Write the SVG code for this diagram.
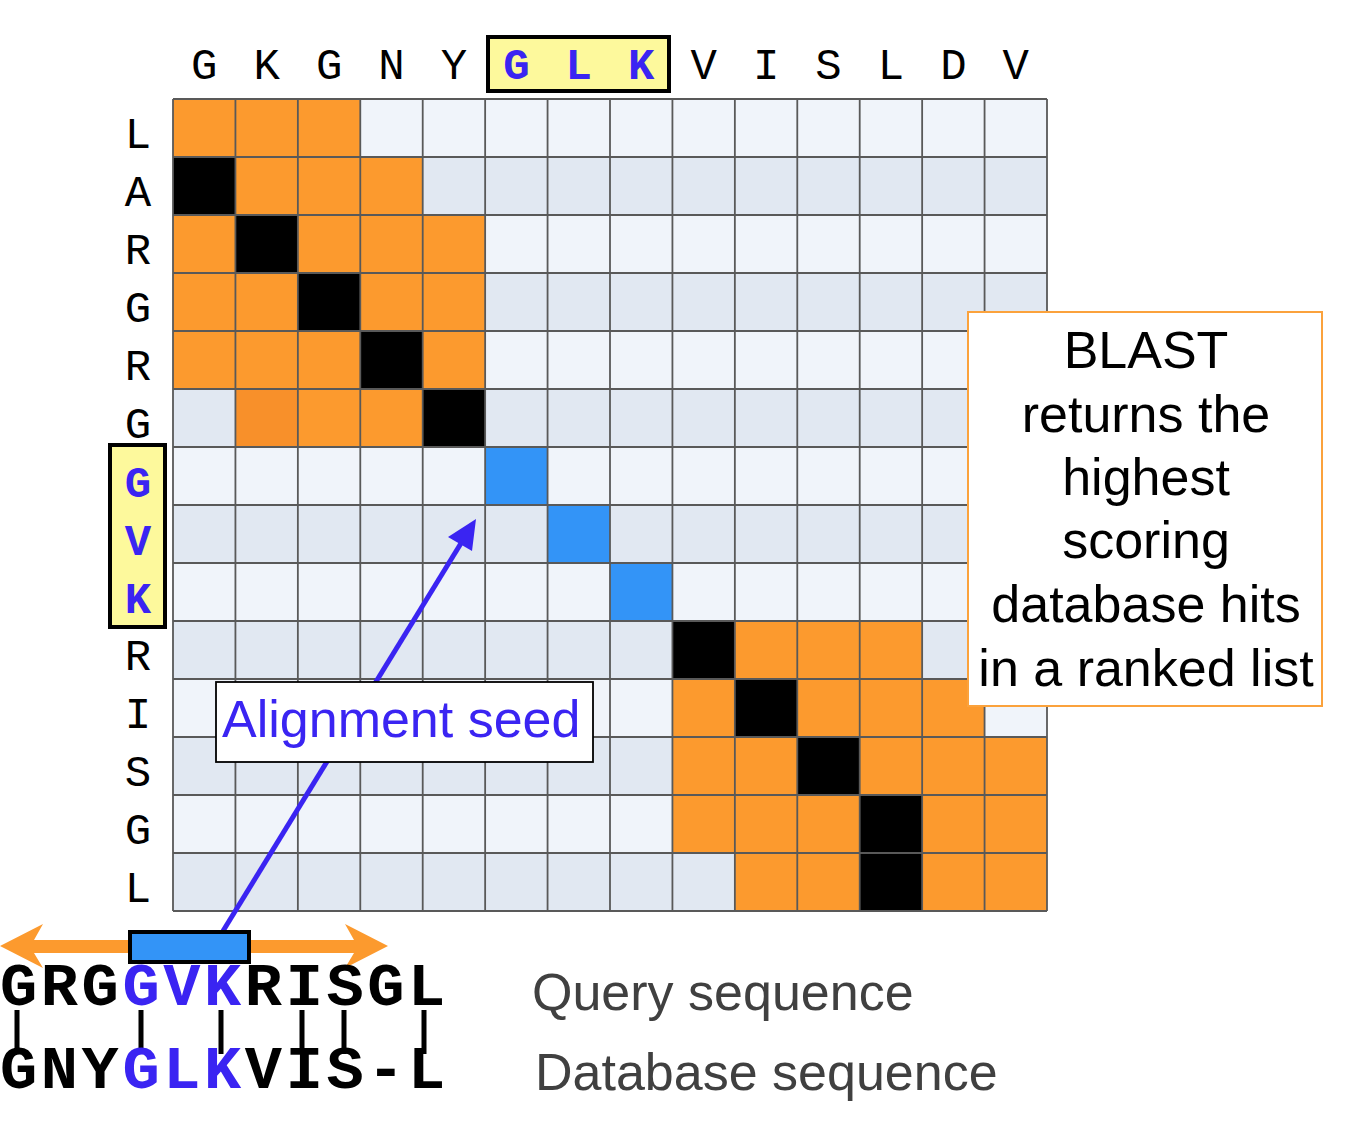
<svg xmlns="http://www.w3.org/2000/svg" width="1354" height="1144" viewBox="0 0 1354 1144">
<style>
.l0{fill:#f0f4fa}
.l1{fill:#e1e8f2}
.o{fill:#fc9a2e}
.k{fill:#000}
.b{fill:#3394f7}
.gl{stroke:#595959;stroke-width:1.8;fill:none}
.mono{font-family:"Liberation Mono","Courier New",monospace;font-size:44px;fill:#000;text-anchor:middle}
.hl{font-weight:bold;fill:#3a24f2}
.seq{font-family:"Liberation Mono","Courier New",monospace;font-size:62px;letter-spacing:3.6px;font-weight:bold;fill:#000}
.sans{font-family:"Liberation Sans",Arial,sans-serif;font-size:52px}
</style>
<rect width="1354" height="1144" fill="#fff"/>
<g id="matrix">
<rect class="l0" x="173" y="99" width="874" height="58"/>
<rect class="l1" x="173" y="157" width="874" height="58"/>
<rect class="l0" x="173" y="215" width="874" height="58"/>
<rect class="l1" x="173" y="273" width="874" height="58"/>
<rect class="l0" x="173" y="331" width="874" height="58"/>
<rect class="l1" x="173" y="389" width="874" height="58"/>
<rect class="l0" x="173" y="447" width="874" height="58"/>
<rect class="l1" x="173" y="505" width="874" height="58"/>
<rect class="l0" x="173" y="563" width="874" height="58"/>
<rect class="l1" x="173" y="621" width="874" height="58"/>
<rect class="l0" x="173" y="679" width="874" height="58"/>
<rect class="l1" x="173" y="737" width="874" height="58"/>
<rect class="l0" x="173" y="795" width="874" height="58"/>
<rect class="l1" x="173" y="853" width="874" height="58"/>
<!-- orange -->
<rect class="o" x="173" y="99" width="187.29" height="58"/>
<rect class="o" x="235.43" y="157" width="187.28" height="58"/>
<rect class="o" x="173" y="215" width="62.43" height="58"/>
<rect class="o" x="297.86" y="215" width="187.28" height="58"/>
<rect class="o" x="173" y="273" width="124.86" height="58"/>
<rect class="o" x="360.29" y="273" width="124.85" height="58"/>
<rect class="o" x="173" y="331" width="187.29" height="58"/>
<rect class="o" x="422.71" y="331" width="62.43" height="58"/>
<rect x="235.43" y="389" width="62.43" height="58" fill="#f8902a"/>
<rect class="o" x="297.86" y="389" width="124.85" height="58"/>
<rect class="o" x="734.86" y="621" width="187.28" height="58"/>
<rect class="o" x="672.43" y="679" width="62.43" height="58"/>
<rect class="o" x="797.29" y="679" width="187.28" height="58"/>
<rect class="o" x="672.43" y="737" width="124.86" height="58"/>
<rect class="o" x="859.71" y="737" width="187.29" height="58"/>
<rect class="o" x="672.43" y="795" width="187.28" height="58"/>
<rect class="o" x="922.14" y="795" width="124.86" height="58"/>
<rect class="o" x="734.86" y="853" width="124.85" height="58"/>
<rect class="o" x="922.14" y="853" width="124.86" height="58"/>
<!-- black diagonal -->
<rect class="k" x="173" y="157" width="62.43" height="58"/>
<rect class="k" x="235.43" y="215" width="62.43" height="58"/>
<rect class="k" x="297.86" y="273" width="62.43" height="58"/>
<rect class="k" x="360.29" y="331" width="62.43" height="58"/>
<rect class="k" x="422.71" y="389" width="62.43" height="58"/>
<rect class="k" x="672.43" y="621" width="62.43" height="58"/>
<rect class="k" x="734.86" y="679" width="62.43" height="58"/>
<rect class="k" x="797.29" y="737" width="62.43" height="58"/>
<rect class="k" x="859.71" y="795" width="62.43" height="58"/>
<rect class="k" x="859.71" y="853" width="62.43" height="58"/>
<!-- blue seed -->
<rect class="b" x="485.14" y="447" width="62.43" height="58"/>
<rect class="b" x="547.57" y="505" width="62.43" height="58"/>
<rect class="b" x="610" y="563" width="62.43" height="58"/>
<!-- grid lines -->
<path class="gl" d="M173 99V911M235.43 99V911M297.86 99V911M360.29 99V911M422.71 99V911M485.14 99V911M547.57 99V911M610 99V911M672.43 99V911M734.86 99V911M797.29 99V911M859.71 99V911M922.14 99V911M984.57 99V911M1047 99V911
M173 99H1047M173 157H1047M173 215H1047M173 273H1047M173 331H1047M173 389H1047M173 447H1047M173 505H1047M173 563H1047M173 621H1047M173 679H1047M173 737H1047M173 795H1047M173 853H1047M173 911H1047"/>
</g>
<g id="column-labels">
<rect x="488" y="37" width="181" height="54" fill="#fdf99c" stroke="#000" stroke-width="4"/>
<text class="mono" x="204.2" y="79">G</text>
<text class="mono" x="266.6" y="79">K</text>
<text class="mono" x="329.1" y="79">G</text>
<text class="mono" x="391.5" y="79">N</text>
<text class="mono" x="453.9" y="79">Y</text>
<text class="mono hl" x="516.4" y="79">G</text>
<text class="mono hl" x="578.8" y="79">L</text>
<text class="mono hl" x="641.2" y="79">K</text>
<text class="mono" x="703.6" y="79">V</text>
<text class="mono" x="766.1" y="79">I</text>
<text class="mono" x="828.5" y="79">S</text>
<text class="mono" x="890.9" y="79">L</text>
<text class="mono" x="953.4" y="79">D</text>
<text class="mono" x="1015.8" y="79">V</text>
</g>
<g id="row-labels">
<rect x="110" y="445" width="55" height="182" fill="#fdf99c" stroke="#000" stroke-width="4"/>
<text class="mono" x="138" y="148">L</text>
<text class="mono" x="138" y="206">A</text>
<text class="mono" x="138" y="264">R</text>
<text class="mono" x="138" y="322">G</text>
<text class="mono" x="138" y="380">R</text>
<text class="mono" x="138" y="438">G</text>
<text class="mono hl" x="138" y="497">G</text>
<text class="mono hl" x="138" y="555">V</text>
<text class="mono hl" x="138" y="613">K</text>
<text class="mono" x="138" y="670">R</text>
<text class="mono" x="138" y="728">I</text>
<text class="mono" x="138" y="786">S</text>
<text class="mono" x="138" y="844">G</text>
<text class="mono" x="138" y="902">L</text>
</g>
<g id="connectors">
<line x1="223" y1="931" x2="463" y2="540" stroke="#3a24f2" stroke-width="5"/>
<polygon points="476,519 448,537 472,551" fill="#3a24f2"/>
</g>
<g id="seed-label">
<rect x="216" y="682" width="377" height="80" fill="#fff" stroke="#000" stroke-width="1.8"/>
<text class="sans" x="222" y="737" fill="#3a24f2">Alignment seed</text>
</g>
<g id="blast-note">
<rect x="968" y="312" width="354" height="394" fill="#fff" stroke="#fba23c" stroke-width="2"/>
<text class="sans" x="1146" fill="#000" text-anchor="middle"><tspan x="1146" y="368">BLAST</tspan><tspan x="1146" y="432">returns the</tspan><tspan x="1146" y="495">highest</tspan><tspan x="1146" y="558">scoring</tspan><tspan x="1146" y="622">database hits</tspan><tspan x="1146" y="686">in a ranked list</tspan></text>
</g>
<g id="query-extent">
<polygon points="0,946 43,924 34,940 354,940 345,924 388,946 345,968 354,953 34,953 43,968" fill="#fc9a2e"/>
<rect x="130" y="932" width="119" height="30" fill="#3394f7" stroke="#000" stroke-width="4"/>
</g>
<g id="alignment">
<text class="seq" x="0" y="1005">GRG<tspan fill="#3a24f2">GVK</tspan>RISGL</text>
<path d="M17 1010V1054M141 1010V1054M221 1010V1054M302 1010V1054M344 1010V1054M424 1010V1054" stroke="#000" stroke-width="5"/>
<text class="seq" x="0" y="1088">GNY<tspan fill="#3a24f2">GLK</tspan>VIS-L</text>
</g>
<g id="sequence-labels">
<text class="sans" x="532" y="1010" fill="#404040">Query sequence</text>
<text class="sans" x="535" y="1090" fill="#404040">Database sequence</text>
</g>
</svg>
